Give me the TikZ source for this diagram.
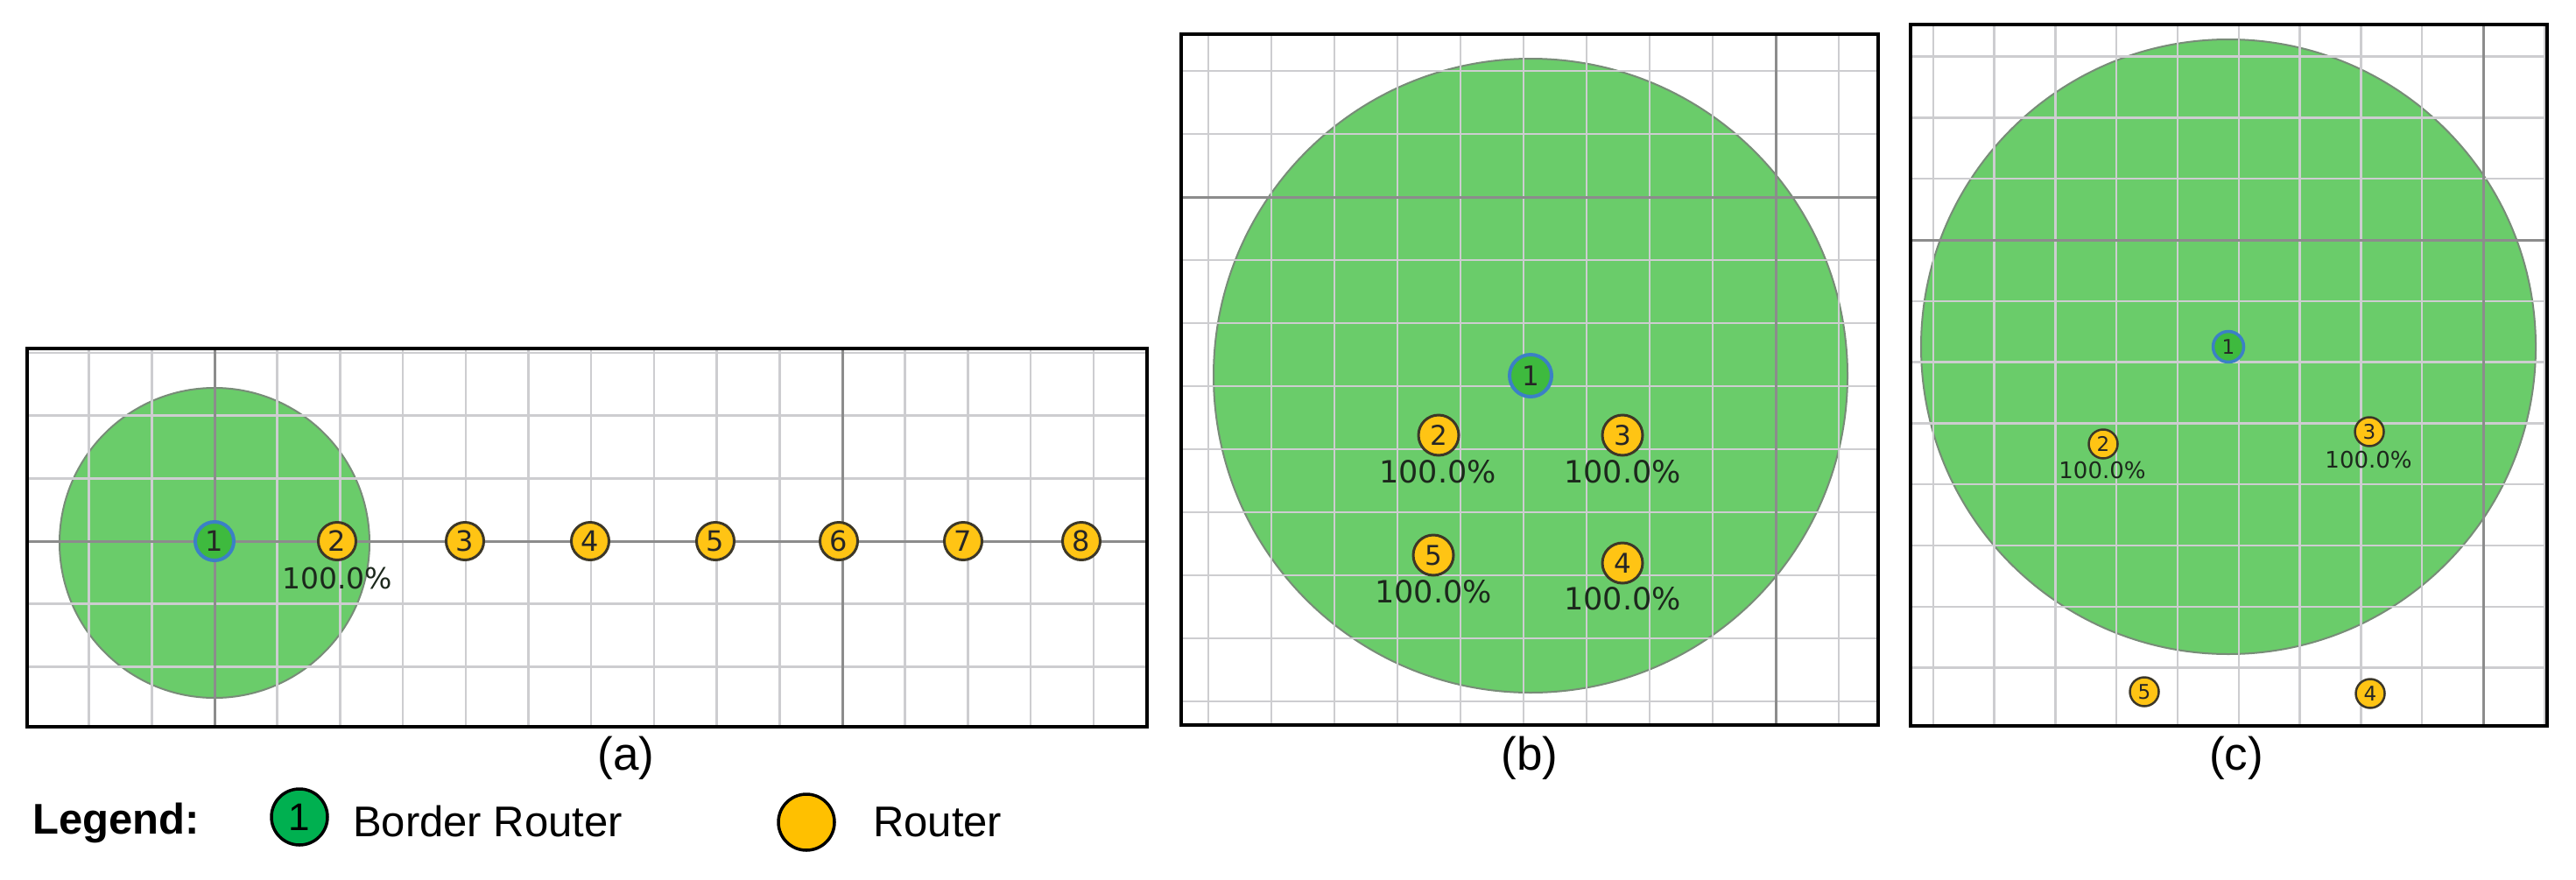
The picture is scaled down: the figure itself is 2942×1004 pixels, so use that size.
\documentclass[tikz,border=0pt]{standalone}
\usepackage{fontspec}
\setmainfont{Liberation Sans}
\newfontfamily\dejavu{DejaVu Sans}
\definecolor{zonegreen}{RGB}{106,204,106}
\definecolor{zoneedge}{RGB}{120,140,120}
\definecolor{gridlight}{RGB}{205,205,208}
\definecolor{griddark}{RGB}{140,140,140}
\definecolor{brgreen}{RGB}{62,186,62}
\definecolor{brblue}{RGB}{59,128,198}
\definecolor{rtyellow}{RGB}{255,196,20}
\definecolor{rtedge}{RGB}{60,55,40}
\definecolor{pcttext}{RGB}{28,40,28}
\definecolor{legreen}{RGB}{0,176,80}
\definecolor{leyellow}{RGB}{255,192,0}
\newcommand\numfont[1]{\dejavu\fontsize{#1}{#1}\selectfont}
\begin{document}
\begin{tikzpicture}[x=1pt,y=-1pt,
  zone/.style={fill=zonegreen, draw=zoneedge, line width=2pt},
  gl/.style={draw=gridlight, line width=2.5pt},
  gd/.style={draw=griddark, line width=3pt},
  frame/.style={draw=black, line width=4pt},
  br/.style={circle, draw=brblue, line width=4pt, fill=brgreen, inner sep=0pt, minimum size=#1, text=black!85},
  rt/.style={circle, draw=rtedge, line width=3pt, fill=rtyellow, inner sep=0pt, minimum size=#1, text=black!85},
  pct/.style={text=pcttext, inner sep=0pt},
  captext/.style={font=\fontsize{53}{53}\selectfont, inner sep=0pt, anchor=base},
  legtext/.style={font=\fontsize{49}{49}\selectfont, inner sep=0pt, anchor=base west},
  legnode/.style={circle, draw=black, line width=3.5pt, inner sep=0pt, minimum size=64pt, font=\fontsize{44}{44}\selectfont}
]
\useasboundingbox (0,0) rectangle (2942,1004);

% ---------------- panel (a)
\begin{scope}
  \clip (31,398) rectangle (1310,830);
  \path[zone] (245,620) circle[radius=177pt];
  \foreach \i in {-3,...,15} \draw[gl] ({245+71.7*\i},398) -- ({245+71.7*\i},830);
  \foreach \j in {-3,...,3} \draw[gl] (31,{618+71.7*\j}) -- (1310,{618+71.7*\j});
  \draw[gd] (245,398) -- (245,830);
  \draw[gd] (962,398) -- (962,830);
  \draw[gd] (31,618) -- (1310,618);
\end{scope}
\draw[frame] (31,398) rectangle (1310,830);

\node[br=44pt, font=\numfont{32}] (a1) at (245,618) {1};
\foreach \n/\x in {2/385,3/531,4/674,5/817,6/958,7/1100,8/1235}
  \node[rt=43pt, font=\numfont{32}] (a\n) at (\x,618) {\n};
\node[pct, font=\numfont{33}] (a2p) at (385,660) {100.0\%};
\node[captext] (capa) at (715,879) {(a)};

% ---------------- panel (b)
\begin{scope}
  \clip (1349,39) rectangle (2145,828);
  \path[zone] (1748,429) circle[radius=362pt];
  \foreach \i in {-10,...,1} \draw[gl] ({2028+72*\i},39) -- ({2028+72*\i},828);
  \foreach \j in {-2,...,8} \draw[gl] (1349,{225+72*\j}) -- (2145,{225+72*\j});
  \draw[gd] (2028,39) -- (2028,828);
  \draw[gd] (1349,225) -- (2145,225);
\end{scope}
\draw[frame] (1349,39) rectangle (2145,828);

\node[br=48pt, font=\numfont{31}] (b1) at (1748,429) {1};
\node[rt=46pt, font=\numfont{31}] (b2) at (1643,497) {2};
\node[rt=46pt, font=\numfont{31}] (b3) at (1853,497) {3};
\node[rt=46pt, font=\numfont{31}] (b5) at (1637,634) {5};
\node[rt=46pt, font=\numfont{31}] (b4) at (1853,643) {4};
\node[pct, font=\numfont{35}] (b2p) at (1642,539) {100.0\%};
\node[pct, font=\numfont{35}] (b3p) at (1853,539) {100.0\%};
\node[pct, font=\numfont{35}] (b5p) at (1637,676) {100.0\%};
\node[pct, font=\numfont{35}] (b4p) at (1853,684) {100.0\%};
\node[captext] (capb) at (1747,879) {(b)};

% ---------------- panel (c)
\begin{scope}
  \clip (2182,28) rectangle (2909,829);
  \path[zone] (2545,396) circle[radius=351pt];
  \foreach \i in {-9,...,1} \draw[gl] ({2836+69.8*\i},28) -- ({2836+69.8*\i},829);
  \foreach \j in {-3,...,7} \draw[gl] (2182,{274+69.8*\j}) -- (2909,{274+69.8*\j});
  \draw[gd] (2836,28) -- (2836,829);
  \draw[gd] (2182,274) -- (2909,274);
\end{scope}
\draw[frame] (2182,28) rectangle (2909,829);

\node[br=35pt, line width=3.5pt, font=\numfont{23}] (c1) at (2545,396) {1};
\node[rt=33pt, line width=2.5pt, font=\numfont{23}] (c2) at (2402,507) {2};
\node[rt=33pt, line width=2.5pt, font=\numfont{23}] (c3) at (2706,493) {3};
\node[rt=33pt, line width=2.5pt, font=\numfont{23}] (c5) at (2449,790) {5};
\node[rt=33pt, line width=2.5pt, font=\numfont{23}] (c4) at (2707,792) {4};
\node[pct, font=\numfont{26}] (c2p) at (2401,537) {100.0\%};
\node[pct, font=\numfont{26}] (c3p) at (2705,525) {100.0\%};
\node[captext] (capc) at (2554,879) {(c)};

% ---------------- legend
\node[legtext, font=\bfseries\fontsize{49}{49}\selectfont] (leg) at (37,952) {Legend:};
\node[legnode, fill=legreen] (lbr) at (342,933) {1};
\node[legtext] (lbrt) at (403,955) {Border Router};
\node[legnode, fill=leyellow] (lrt) at (921,939) {};
\node[legtext] (lrtt) at (997,955) {Router};
\end{tikzpicture}
\end{document}
